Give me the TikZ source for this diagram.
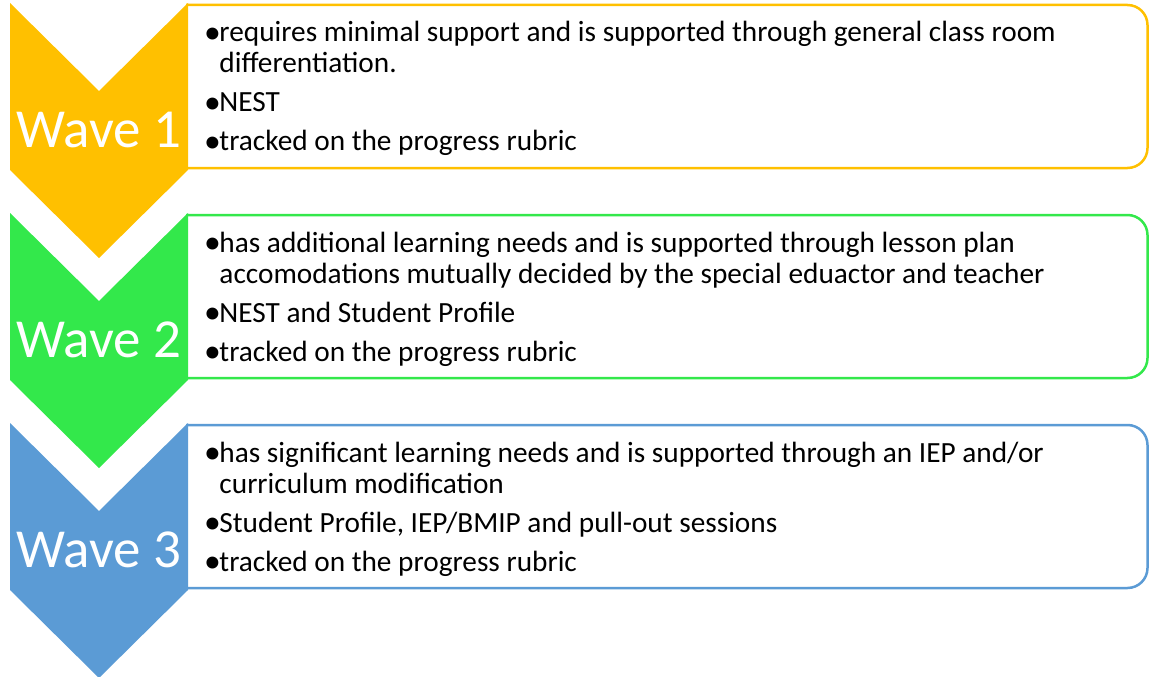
\documentclass[tikz,border=0pt]{standalone}
\usepackage{fontspec}
\setmainfont{Carlito}
\definecolor{wyellow}{HTML}{FFC000}
\definecolor{wgreen}{HTML}{33E84B}
\definecolor{wblue}{HTML}{5B9BD5}
\newlength{\bulw}
\newcommand{\bsym}{\raisebox{-1.3pt}{\scalebox{1.15}{\textbullet}}\kern-1.5pt}
\newcommand{\bitem}[1]{\par\hangindent=\bulw\hangafter=1\noindent\bsym#1}
\newcommand{\bodytext}[1]{\parbox[t]{940pt}{\fontsize{29.3}{31}\selectfont\settowidth{\bulw}{\bsym}\setlength{\parskip}{8pt}\raggedright #1}}
\tikzset{
  chev/.style={fill=#1, draw=none},
  wbox/.style={draw=#1, line width=2.5pt, fill=white, rounded corners=20pt},
  wavelabel/.style={text=white, font=\fontsize{55}{60}\selectfont, anchor=base, inner sep=0pt},
  itemtext/.style={anchor=base west, inner sep=0pt, text=black}
}
\begin{document}
\begin{tikzpicture}[x=1pt,y=-1pt]
\useasboundingbox (0,0) rectangle (1149,677);
% boxes (left side hidden under chevrons)
\begin{scope}
\clip (186,0) rectangle (1149,677);
\draw[wbox=wyellow] (150,5) rectangle (1147.5,168);
\draw[wbox=wgreen] (150,215) rectangle (1147.5,378);
\draw[wbox=wblue] (150,425) rectangle (1147.5,588);
\end{scope}
% chevrons
\fill[chev=wyellow] (10,3) -- (99,91) -- (188,3) -- (188,170) -- (99,258) -- (10,170) -- cycle;
\fill[chev=wgreen] (10,213) -- (99,301) -- (188,213) -- (188,380) -- (99,468) -- (10,380) -- cycle;
\fill[chev=wblue] (10,423) -- (99,511) -- (188,423) -- (188,590) -- (99,678) -- (10,590) -- cycle;
% labels
\node[wavelabel] (w1) at (99,147) {Wave 1};
\node[wavelabel] (w2) at (99,357) {Wave 2};
\node[wavelabel] (w3) at (99,567) {Wave 3};
% texts
\node[itemtext] (t1) at (204,42) {\bodytext{%
\bitem{requires minimal support and is supported through general class room\newline differentiation.}
\bitem{NEST}
\bitem{tracked on the progress rubric}}};
\node[itemtext] (t2) at (204,252) {\bodytext{%
\bitem{has additional learning needs and is supported through lesson plan\newline accomodations mutually decided by the special eduactor and teacher}
\bitem{NEST and Student Profile}
\bitem{tracked on the progress rubric}}};
\node[itemtext] (t3) at (204,462) {\bodytext{%
\bitem{has significant learning needs and is supported through an IEP and/or\newline curriculum modification}
\bitem{Student Profile, IEP/BMIP and pull-out sessions}
\bitem{tracked on the progress rubric}}};
\end{tikzpicture}
\end{document}
